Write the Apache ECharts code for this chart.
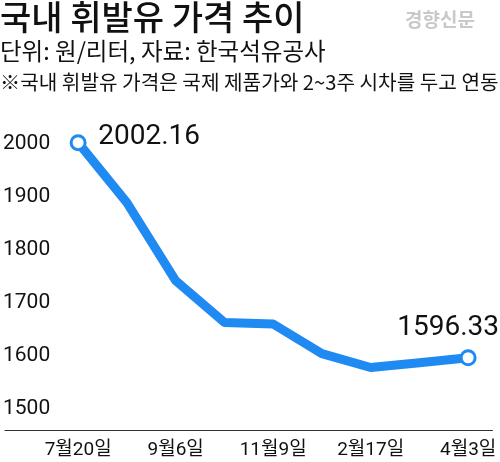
<!DOCTYPE html>
<html><head><meta charset="utf-8">
<script src="https://cdn.jsdelivr.net/npm/echarts@6/dist/echarts.min.js"></script>
<style>html,body{margin:0;padding:0;background:#fff}#c{width:500px;height:462px}</style>
</head><body><div id="c"></div>
<script>
var dates = ['7월20일', '', '9월6일', '', '11월9일', '', '2월17일', '', '4월3일'];
var prices = [2002.16, 1889, 1742, 1663, 1660, 1604, 1578, 1587, 1596.33];
var yTicks = [1500, 1600, 1700, 1800, 1900, 2000];
var titleText = '국내 휘발유 가격 추이';
var unitText = '단위: 원/리터, 자료: 한국석유공사';
var noteText = '※국내 휘발유 가격은 국제 제품가와 2~3주 시차를 두고 연동';
var brandText = '경향신문';

var blue = '#1f8af2';
var kr = '"Noto Sans CJK KR", "Noto Sans", sans-serif';
var num = '"Liberation Sans Narrow", "Roboto", "Noto Sans CJK KR", sans-serif';

var cats = [''].concat(dates);
var last = prices.length - 1;
var seriesData = [null].concat(prices.map(function (v, i) {
  var item = { value: v };
  if (i === 0) {
    item.label = { show: true, position: 'inside', offset: [71, -6] };
  } else if (i === last) {
    item.label = { show: true, position: 'inside', offset: [-20, -30] };
  }
  return item;
}));

var chart = echarts.init(document.getElementById('c'), null, { renderer: 'canvas' });
chart.setOption({
  animation: false,
  backgroundColor: '#fff',
  graphic: [
    { type: 'text', left: 0, top: 0, style: { text: titleText, font: '500 34px ' + kr, fill: '#111' } },
    { type: 'text', left: 405, top: 10, style: { text: brandText, font: 'bold 19px ' + kr, fill: '#c9c9c9' } },
    { type: 'text', left: 0, top: 39, style: { text: unitText, font: '23.5px ' + kr, fill: '#111' } },
    { type: 'text', left: 0, top: 72, style: { text: noteText, font: '20.2px ' + kr, fill: '#111' } }
  ],
  grid: { left: 2.5, right: 7.5, top: 90.8, bottom: 32, containLabel: false },
  xAxis: {
    type: 'category',
    data: cats,
    boundaryGap: true,
    axisLine: { lineStyle: { color: '#333', width: 1 } },
    axisTick: {
      alignWithLabel: true,
      inside: true,
      length: 13,
      interval: function (i) { return i > 0; },
      lineStyle: { color: '#333', width: 1 }
    },
    axisLabel: { interval: 0, margin: 11, fontSize: 19, fontFamily: num, color: '#111' }
  },
  yAxis: {
    type: 'value',
    min: 1460,
    max: 2100,
    interval: 20,
    splitLine: { show: false },
    axisLine: { show: false },
    axisTick: { show: false },
    axisLabel: {
      inside: true,
      margin: -2,
      fontSize: 21,
      fontFamily: num,
      color: '#111',
      showMinLabel: false,
      showMaxLabel: false,
      formatter: function (v) { return yTicks.indexOf(v) >= 0 ? String(v) : ''; }
    }
  },
  series: [{
    type: 'line',
    data: seriesData,
    connectNulls: false,
    lineStyle: { color: blue, width: 9, join: 'round', cap: 'round' },
    symbol: 'circle',
    symbolSize: function (v, p) { return (p.dataIndex === 1 || p.dataIndex === cats.length - 1) ? 14 : 0; },
    itemStyle: { color: '#fff', borderColor: blue, borderWidth: 3 },
    label: {
      show: false,
      fontSize: 28,
      fontFamily: num,
      color: '#111',
      formatter: function (p) { return p.value.toFixed(2); }
    },
    z: 5
  }]
});
</script></body></html>
